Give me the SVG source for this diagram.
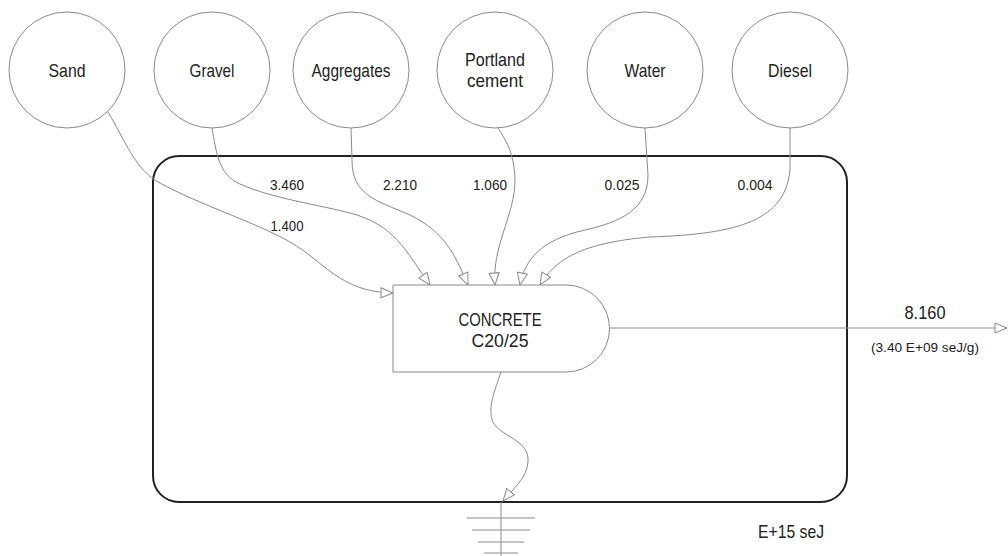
<svg xmlns="http://www.w3.org/2000/svg" width="1008" height="556" viewBox="0 0 1008 556">
  <style>
    text { font-family: "Liberation Sans", Arial, sans-serif; fill: #222; text-anchor: middle; }
    .src { fill: #fff; stroke: #8a8a8a; stroke-width: 1; }
    .lbl { font-size: 19px; }
    .num { font-size: 15px; }
    .flow { fill: none; stroke: #8a8a8a; stroke-width: 1; }
    .gnd { stroke: #8a8a8a; stroke-width: 1; }
  </style>
  <defs>
    <marker id="open" viewBox="0 0 14 12" refX="13" refY="6" markerWidth="14" markerHeight="12" markerUnits="userSpaceOnUse" orient="auto">
      <path d="M1,1 L13,6 L1,11 Z" fill="#fff" stroke="#8a8a8a" stroke-width="1"/>
    </marker>
  </defs>
  <rect width="1008" height="556" fill="#fff"/>

  <!-- system boundary -->
  <g id="boundary">
    <rect x="153" y="156" width="694" height="346" rx="26" ry="26" fill="none" stroke="#222" stroke-width="2"/>
    <text x="791" y="538" class="lbl" textLength="66" lengthAdjust="spacingAndGlyphs">E+15 seJ</text>
  </g>

  <!-- flows -->
  <g id="connectors">
    <path class="flow" marker-end="url(#open)" d="M108,112 C125,140 135,170 160,183 C200,205 255,222 290,242 C325,262 340,292 393,293"/>
    <path class="flow" marker-end="url(#open)" d="M212,128 C216,150 218,175 240,184 C270,198 320,205 350,213 C395,225 405,250 430,285"/>
    <path class="flow" marker-end="url(#open)" d="M351,128 L352,160 C352,195 375,200 410,215 C445,232 455,255 468,285"/>
    <path class="flow" marker-end="url(#open)" d="M498,128 C505,140 514,150 515,180 C515,215 492,245 495,285"/>
    <path class="flow" marker-end="url(#open)" d="M645,128 L648,175 C648,210 620,222 585,230 C540,240 525,260 520,285"/>
    <path class="flow" marker-end="url(#open)" d="M790,128 L790,170 C785,220 740,234 650,237 C580,243 555,260 540,285"/>
    <path class="flow" marker-end="url(#open)" d="M610,328 L1007,328"/>
    <path class="flow" marker-end="url(#open)" d="M501,372 C495,390 487,408 493,422 C501,437 530,440 528,462 C527,478 512,490 503,501"/>
  </g>

  <!-- flow values -->
  <g id="flow-labels" class="num">
    <text x="287" y="190" textLength="34" lengthAdjust="spacingAndGlyphs">3.460</text>
    <text x="287" y="231" textLength="33" lengthAdjust="spacingAndGlyphs">1.400</text>
    <text x="400" y="190" textLength="34" lengthAdjust="spacingAndGlyphs">2.210</text>
    <text x="490" y="190" textLength="34" lengthAdjust="spacingAndGlyphs">1.060</text>
    <text x="622" y="190" textLength="35" lengthAdjust="spacingAndGlyphs">0.025</text>
    <text x="755" y="190" textLength="35" lengthAdjust="spacingAndGlyphs">0.004</text>
    <text x="925" y="319" style="font-size:19px" textLength="41" lengthAdjust="spacingAndGlyphs">8.160</text>
    <text x="925" y="352" style="font-size:13px" textLength="108" lengthAdjust="spacingAndGlyphs">(3.40 E+09 seJ/g)</text>
  </g>

  <!-- sources -->
  <g id="sand"><circle class="src" cx="67" cy="70" r="58"/><text class="lbl" x="67" y="77" textLength="37" lengthAdjust="spacingAndGlyphs">Sand</text></g>
  <g id="gravel"><circle class="src" cx="212" cy="70" r="58"/><text class="lbl" x="212" y="77" textLength="45" lengthAdjust="spacingAndGlyphs">Gravel</text></g>
  <g id="aggregates"><circle class="src" cx="351" cy="70" r="58"/><text class="lbl" x="351" y="77" textLength="79" lengthAdjust="spacingAndGlyphs">Aggregates</text></g>
  <g id="portland-cement"><circle class="src" cx="495" cy="70" r="58"/><text class="lbl" x="495" y="66" textLength="60" lengthAdjust="spacingAndGlyphs">Portland</text><text class="lbl" x="495" y="87" textLength="56" lengthAdjust="spacingAndGlyphs">cement</text></g>
  <g id="water"><circle class="src" cx="645" cy="70" r="58"/><text class="lbl" x="645" y="77" textLength="41" lengthAdjust="spacingAndGlyphs">Water</text></g>
  <g id="diesel"><circle class="src" cx="790" cy="70" r="58"/><text class="lbl" x="790" y="77" textLength="44" lengthAdjust="spacingAndGlyphs">Diesel</text></g>

  <!-- process -->
  <g id="concrete">
    <path d="M393,285 L566,285 A43.5,43.5 0 0 1 566,372 L393,372 Z" fill="#fff" stroke="#8a8a8a" stroke-width="1"/>
    <text class="lbl" x="500" y="326" textLength="83" lengthAdjust="spacingAndGlyphs">CONCRETE</text>
    <text class="lbl" x="500" y="347" textLength="57" lengthAdjust="spacingAndGlyphs">C20/25</text>
  </g>

  <!-- heat sink -->
  <g id="sink">
    <line class="gnd" x1="501" y1="502" x2="501" y2="556"/>
    <line class="gnd" x1="467" y1="518" x2="535" y2="518"/>
    <line class="gnd" x1="472" y1="530" x2="530" y2="530"/>
    <line class="gnd" x1="478" y1="542" x2="524" y2="542"/>
    <line class="gnd" x1="484" y1="553" x2="518" y2="553"/>
  </g>
</svg>
